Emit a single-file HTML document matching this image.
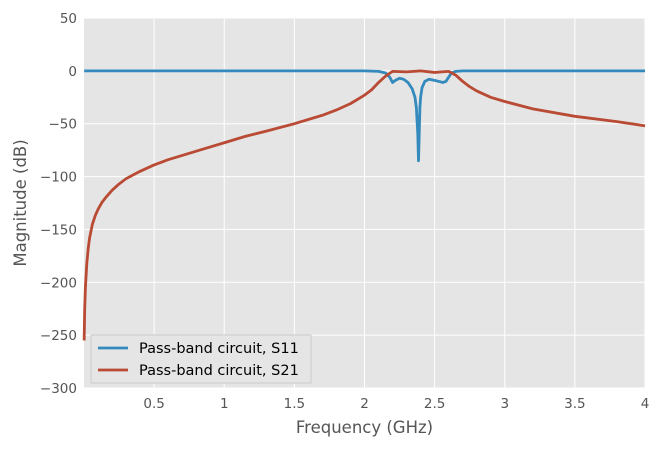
<!DOCTYPE html>
<html><head><meta charset="utf-8"><style>
body{margin:0;background:#fff;}
svg{display:block;font-family:"DejaVu Sans","Liberation Sans",sans-serif;}
</style></head><body>
<svg id="c" width="662" height="449"></svg>
<script>
const freqS11=[0.001,2.0,2.1,2.15,2.18,2.2,2.22,2.25,2.28,2.31,2.34,2.36,2.37,2.38,2.385,2.39,2.395,2.40,2.41,2.43,2.46,2.5,2.53,2.56,2.58,2.6,2.62,2.65,2.7,4.0];
const valS11=[0,0,-0.5,-2,-6,-11,-9,-7,-8,-11,-17,-25,-35,-60,-85,-60,-35,-25,-16,-10,-8,-9,-10,-11,-10,-6,-2,-0.5,0,0];
const freqS21=[0.001,0.005,0.01,0.02,0.03,0.04,0.06,0.08,0.1,0.13,0.16,0.2,0.25,0.3,0.4,0.5,0.6,0.7,0.85,1.0,1.15,1.3,1.5,1.7,1.8,1.9,2.0,2.05,2.1,2.15,2.2,2.3,2.4,2.5,2.55,2.6,2.65,2.7,2.75,2.8,2.9,3.0,3.2,3.5,3.8,4.0];
const valS21=[-255,-225,-205,-182,-168,-158,-145,-137,-131,-124,-119,-113,-107,-102,-95,-89,-84,-80,-74,-68,-62,-57,-50,-42,-37,-31,-23,-18,-11,-5,-0.5,-1,0,-1.5,-1,-0.5,-4,-10,-15,-19,-25,-29,-36,-43,-48,-52];
const xTicks=[0.5,1,1.5,2,2.5,3,3.5,4];
const yTicks=[50,0,-50,-100,-150,-200,-250,-300];
const L=84,R=645,T=18,B=388,x0=0,x1=4,y0=-300,y1=50;
const X=v=>L+(v-x0)/(x1-x0)*(R-L);
const Y=v=>B-(v-y0)/(y1-y0)*(B-T);
const svg=document.getElementById('c');
const NS='http://www.w3.org/2000/svg';
function mk(t,a,p){const e=document.createElementNS(NS,t);for(const k in a)e.setAttribute(k,a[k]);(p||svg).appendChild(e);return e;}
const bg=mk('rect',{x:L,y:T,width:R-L,height:B-T,fill:'#e5e5e5'});


xTicks.forEach(v=>{
  mk('line',{x1:X(v),x2:X(v),y1:T,y2:B,stroke:'#fff','stroke-width':1});
  const t=mk('text',{x:X(v),y:B+20,'text-anchor':'middle','font-size':13.5,fill:'#555'});t.textContent=v;
  
  
});
yTicks.forEach(v=>{
  mk('line',{x1:L,x2:R,y1:Y(v),y2:Y(v),stroke:'#fff','stroke-width':1});
  const t=mk('text',{x:L-7,y:Y(v)+5,'text-anchor':'end','font-size':13.5,fill:'#555'});t.textContent=v<0?'\u2212'+(-v):v;
  
  
});
function line(xs,ys,col,name){
  const d=xs.map((v,i)=>(i?'L':'M')+X(v).toFixed(2)+','+Y(ys[i]).toFixed(2)).join('');
  const p=mk('path',{d:d,fill:'none',stroke:col,'stroke-width':2.8,'stroke-linejoin':'round'});
  
  
}
line(freqS11,valS11,'#348abd','s11-line');
line(freqS21,valS21,'#b94a34','s21-line');
const xl=mk('text',{x:(L+R)/2,y:433,'text-anchor':'middle','font-size':16.5,fill:'#555'});xl.textContent='Frequency (GHz)';


const yl=mk('text',{x:26,y:(T+B)/2,'text-anchor':'middle','font-size':16.5,fill:'#555',transform:'rotate(-90 26 '+((T+B)/2)+')'});yl.textContent='Magnitude (dB)';


const lg=mk('g',{});


mk('rect',{x:91,y:335,width:220,height:48,fill:'#e5e5e5',stroke:'#ccc','stroke-width':1},lg);
[['Pass-band circuit, S11','#348abd',348],['Pass-band circuit, S21','#b94a34',370]].forEach(([s,c,y])=>{
  mk('line',{x1:98,x2:128,y1:y,y2:y,stroke:c,'stroke-width':2.8},lg);
  const t=mk('text',{x:139,y:y+5,'font-size':14.5,fill:'#000'},lg);t.textContent=s;
  
  
});
</script>
</body></html>
